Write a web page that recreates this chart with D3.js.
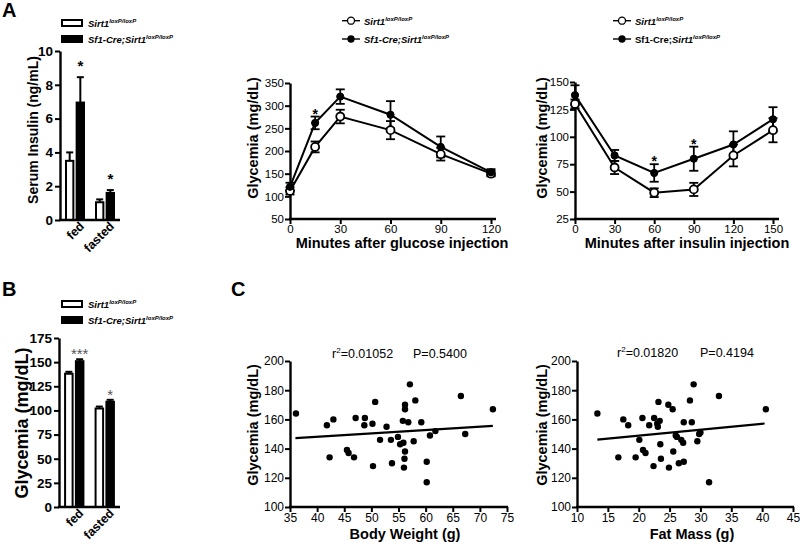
<!DOCTYPE html>
<html><head><meta charset="utf-8">
<script src="https://cdn.jsdelivr.net/npm/d3@7"></script>
<style>body{margin:0;background:#fff} svg{display:block} text{font-family:"Liberation Sans",Arial,sans-serif}</style>
</head><body><svg id="c" width="800" height="543"></svg>
<script>
// ---------- DATA ----------
const groups = ["fed", "fasted"];
const seriesKeys = ["WT", "KO"];
// Panel A – serum insulin (ng/mL)
const insulinWT = [3.5, 1.05], insulinWTErr = [0.5, 0.17];
const insulinKO = [6.95, 1.6], insulinKOErr = [1.5, 0.17];
const insulinTicks = [0, 2, 4, 6, 8, 10];
const insulinStars = ["*", "*"];
// Panel B – glycemia (mg/dL)
const glyWT = [138, 102], glyWTErr = [2, 2];
const glyKO = [151, 109], glyKOErr = [2, 2];
const glyTicks = [0, 25, 50, 75, 100, 125, 150, 175];
const glyStars = ["***", "*"];
// GTT
const gttTime = [0, 15, 30, 60, 90, 120];
const gttWT = [112, 209, 276, 246, 193, 150], gttWTErr = [8, 12, 15, 20, 14, 6];
const gttKO = [121, 262, 320, 280, 209, 153], gttKOErr = [9, 14, 16, 30, 23, 7];
const gttXTicks = [0, 30, 60, 90, 120];
const gttYTicks = [50, 100, 150, 200, 250, 300, 350];
const gttStarTimes = [15];
// ITT
const ittTime = [0, 30, 60, 90, 120, 150];
const ittWT = [130, 72, 49, 52, 83, 106], ittWTErr = [4, 6, 4, 6, 10, 11];
const ittKO = [138, 83, 67, 80, 93, 116], ittKOErr = [9, 5, 8, 11, 12, 11];
const ittXTicks = [0, 30, 60, 90, 120, 150];
const ittYTicks = [25, 50, 75, 100, 125, 150];
const ittStarTimes = [60, 90];
// Panel C – correlations
const bwX = [36.1, 41.8, 43.0, 42.3, 45.5, 45.8, 46.8, 47.1, 48.8, 48.7, 50.2, 50.7, 50.3, 51.6, 52.8, 53.6, 53.8, 54.9, 55.3, 55.9, 55.8, 56.2, 56.2, 56.8, 56.2, 56.1, 56.0, 57.1, 58.1, 57.8, 59.2, 60.2, 60.2, 60.8, 61.8, 66.5, 67.3, 72.4];
const bwY = [164, 156, 160, 134, 139, 137, 134, 161, 161, 156, 157, 172, 128, 146, 155, 146, 130, 148, 143, 144, 159, 170, 167, 158, 138, 133, 127, 184, 173, 145, 158, 131, 117, 149, 152, 176, 150, 167];
const bwFitX = [36, 72.4], bwFitY = [147.2, 155.6];
const fmX = [13.3, 16.7, 17.5, 18.3, 19.5, 20.1, 20.6, 20.7, 21.1, 21.7, 22.4, 22.5, 23.0, 23.1, 23.2, 23.4, 23.5, 23.6, 24.9, 24.8, 25.5, 25.6, 26.0, 26.2, 26.5, 26.9, 27.2, 27.3, 27.3, 28.3, 28.6, 28.9, 29.5, 29.8, 30.0, 31.4, 33.0, 40.6];
const fmY = [164, 134, 160, 156, 134, 146, 161, 139, 137, 156, 128, 161, 157, 155, 172, 159, 143, 133, 127, 170, 167, 138, 149, 148, 130, 146, 144, 131, 158, 173, 158, 184, 145, 150, 151, 117, 176, 167];
const fmFitX = [13.3, 40.4], fmFitY = [146.2, 157.2];
const bwXTicks = [35, 40, 45, 50, 55, 60, 65, 70, 75];
const fmXTicks = [10, 15, 20, 25, 30, 35, 40, 45];
const scatYTicks = [100, 120, 140, 160, 180, 200];

// ---------- HELPERS ----------
const svg = d3.select("#c");
const FONT = '"Liberation Sans",Arial,sans-serif';

function styleAxis(g, size, weight) {
  g.attr("font-family", FONT).attr("font-size", size);
  g.select(".domain").attr("stroke", "#000").attr("stroke-width", 2.4);
  g.selectAll(".tick line").attr("stroke", "#000").attr("stroke-width", 2);
  g.selectAll(".tick text").attr("fill", "#000").attr("font-weight", weight);
}
function panelLetter(t, x, y) {
  svg.append("text").attr("x", x).attr("y", y).text(t)
    .attr("font-size", 20).attr("font-weight", "bold");
}
function yTitle(t, x, y, size) {
  svg.append("text").attr("transform", `translate(${x},${y}) rotate(-90)`)
    .attr("text-anchor", "middle").attr("font-size", size).attr("font-weight", "bold").text(t);
}
function xTitle(t, x, y, size) {
  svg.append("text").attr("x", x).attr("y", y).attr("text-anchor", "middle")
    .attr("font-size", size).attr("font-weight", "bold").text(t);
}
function legendLabel(x, y, prefixPlain) {
  const t = svg.append("text").attr("x", x).attr("y", y).attr("font-size", 9.5).attr("font-weight", "bold");
  if (prefixPlain) t.append("tspan").text(prefixPlain.text).attr("font-style", prefixPlain.italic ? "italic" : "normal");
  t.append("tspan").text("Sirt1").attr("font-style", "italic");
  t.append("tspan").text("loxP/loxP").attr("font-style", "italic").attr("font-size", 6).attr("dy", -4);
}

// ---------- BAR PANELS ----------
function barPanel(opt) {
  const y = d3.scaleLinear().domain([0, opt.yMax]).range([opt.y0, opt.y1]);
  const xg = d3.scaleBand().domain(groups).range([opt.x0, opt.x1]).paddingInner(1 / 3).paddingOuter(1 / 6);
  const xs = d3.scaleBand().domain(seriesKeys).range([0, xg.bandwidth()]).paddingInner(0.12);
  const data = [];
  groups.forEach((g, i) => {
    data.push({ g, s: "WT", v: opt.wt[i], e: opt.wtErr[i] });
    data.push({ g, s: "KO", v: opt.ko[i], e: opt.koErr[i] });
  });
  const gg = svg.append("g");
  gg.selectAll("g.eb").data(data).join("g").each(function (d) {
    const cx = xg(d.g) + xs(d.s) + xs.bandwidth() / 2;
    const sel = d3.select(this);
    sel.append("line").attr("x1", cx).attr("x2", cx).attr("y1", y(d.v)).attr("y2", y(d.v + d.e)).attr("stroke", "#000").attr("stroke-width", 2);
    sel.append("line").attr("x1", cx - 3.5).attr("x2", cx + 3.5).attr("y1", y(d.v + d.e)).attr("y2", y(d.v + d.e)).attr("stroke", "#000").attr("stroke-width", 2);
  });
  gg.selectAll("rect").data(data).join("rect")
    .attr("x", d => xg(d.g) + xs(d.s) + 1).attr("width", xs.bandwidth() - 2)
    .attr("y", d => y(d.v)).attr("height", d => opt.y0 - y(d.v))
    .attr("fill", d => d.s === "WT" ? "#fff" : "#000").attr("stroke", "#000").attr("stroke-width", 2);
  const ya = svg.append("g").attr("transform", `translate(${opt.x0},0)`)
    .call(d3.axisLeft(y).tickValues(opt.ticks).tickSize(5).tickSizeOuter(0).tickPadding(2));
  styleAxis(ya, 13.5, "bold");
  const xa = svg.append("g").attr("transform", `translate(0,${opt.y0})`)
    .call(d3.axisBottom(xg).tickSize(0).tickSizeOuter(0));
  styleAxis(xa, 12.5, "bold");
  xa.select(".domain").attr("d", `M${opt.x0 - 1},0H${opt.x1}`);
  xa.selectAll(".tick text").attr("text-anchor", "end")
    .attr("transform", "translate(6,3) rotate(-45)").attr("dy", "0.45em").attr("y", 0);
  groups.forEach((g, i) => {
    const cx = xg(g) + xs("KO") + xs.bandwidth() / 2;
    svg.append("text").attr("x", cx).attr("y", y(opt.ko[i] + opt.koErr[i]) - opt.starGap)
      .attr("text-anchor", "middle").attr("font-size", opt.starSize).attr("font-weight", opt.starWeight)
      .attr("fill", opt.starColor).text(opt.stars[i]);
  });
  const lx = 62;
  svg.append("rect").attr("x", lx).attr("y", opt.legY).attr("width", 20).attr("height", 6).attr("fill", "#fff").attr("stroke", "#000").attr("stroke-width", 2);
  svg.append("rect").attr("x", lx - 1).attr("y", opt.legY + 15).attr("width", 22).attr("height", 8).attr("fill", "#000");
  legendLabel(88, opt.legY + 7, null);
  legendLabel(88, opt.legY + 23, { text: "Sf1-Cre;", italic: true });
  yTitle(opt.title, opt.titleX, opt.titleY, opt.titleSize);
}

barPanel({ x0: 60, x1: 120, y0: 220, y1: 51, yMax: 10, wt: insulinWT, wtErr: insulinWTErr, ko: insulinKO, koErr: insulinKOErr,
  ticks: insulinTicks, stars: insulinStars, starGap: 6, starSize: 15, starWeight: "bold", starColor: "#000",
  legY: 20, title: "Serum Insulin (ng/mL)", titleX: 38, titleY: 130, titleSize: 14 });
barPanel({ x0: 59, x1: 120, y0: 507, y1: 338, yMax: 175, wt: glyWT, wtErr: glyWTErr, ko: glyKO, koErr: glyKOErr,
  ticks: glyTicks, stars: glyStars, starGap: 0, starSize: 15, starWeight: "normal", starColor: "#555",
  legY: 301, title: "Glycemia (mg/dL)", titleX: 28, titleY: 423, titleSize: 18 });

// ---------- LINE PANELS ----------
function linePanel(opt) {
  const x = d3.scaleLinear().domain([opt.xTicks[0], opt.xTicks[opt.xTicks.length - 1]]).range([opt.x0, opt.x1]);
  const y = d3.scaleLinear().domain([opt.yTicks[0], opt.yTicks[opt.yTicks.length - 1]]).range([opt.y0, opt.y1]);
  const ya = svg.append("g").attr("transform", `translate(${opt.x0},0)`)
    .call(d3.axisLeft(y).tickValues(opt.yTicks).tickSize(5).tickSizeOuter(0).tickPadding(1));
  styleAxis(ya, 11.5, "normal");
  const xa = svg.append("g").attr("transform", `translate(0,${opt.y0})`)
    .call(d3.axisBottom(x).tickValues(opt.xTicks).tickSize(5).tickSizeOuter(0).tickPadding(1));
  styleAxis(xa, 11.5, "normal");
  xa.select(".domain").attr("d", `M${opt.x0 - 1},0H${opt.xEnd}`);
  const series = [
    { v: opt.wt, e: opt.wtErr, open: true },
    { v: opt.ko, e: opt.koErr, open: false }
  ];
  const line = d3.line().x((d, i) => x(opt.time[i])).y(d => y(d));
  series.forEach(s => {
    const g = svg.append("g");
    s.v.forEach((v, i) => {
      const cx = x(opt.time[i]);
      g.append("line").attr("x1", cx).attr("x2", cx).attr("y1", y(v - s.e[i])).attr("y2", y(v + s.e[i])).attr("stroke", "#000").attr("stroke-width", 1.8);
      [v - s.e[i], v + s.e[i]].forEach(w => g.append("line").attr("x1", cx - 4.5).attr("x2", cx + 4.5).attr("y1", y(w)).attr("y2", y(w)).attr("stroke", "#000").attr("stroke-width", 1.8));
    });
  });
  series.forEach(s => {
    svg.append("path").datum(s.v).attr("d", line).attr("fill", "none").attr("stroke", "#000").attr("stroke-width", 2);
  });
  series.forEach(s => {
    svg.append("g").selectAll("circle").data(s.v).join("circle")
      .attr("cx", (d, i) => x(opt.time[i])).attr("cy", d => y(d))
      .attr("r", s.open ? 4 : 3.6).attr("fill", s.open ? "#fff" : "#000").attr("stroke", "#000").attr("stroke-width", s.open ? 1.8 : 1);
  });
  opt.starTimes.forEach(t => {
    const i = opt.time.indexOf(t);
    const top = Math.max(opt.ko[i] + opt.koErr[i], opt.wt[i] + opt.wtErr[i]);
    svg.append("text").attr("x", x(t)).attr("y", y(top) + 2).attr("text-anchor", "middle")
      .attr("font-size", 14).attr("font-weight", "bold").text("*");
  });
  const lx = opt.legX;
  [[20.7, true], [39, false]].forEach(([ly, open]) => {
    svg.append("line").attr("x1", lx).attr("x2", lx + 18).attr("y1", ly).attr("y2", ly).attr("stroke", "#000").attr("stroke-width", 1.4);
    svg.append("circle").attr("cx", lx + 9).attr("cy", ly).attr("r", open ? 3.5 : 3).attr("fill", open ? "#fff" : "#000").attr("stroke", "#000").attr("stroke-width", 1.3);
  });
  legendLabel(lx + 22, 24.5, null);
  legendLabel(lx + 22, 43, { text: "Sf1-Cre;", italic: opt.legItalic });
  yTitle("Glycemia (mg/dL)", opt.titleYX, 138, 14.5);
  xTitle(opt.xTitle, opt.titleXX, 248, 14.5);
}

linePanel({ x0: 290, x1: 491, xEnd: 496, y0: 219, y1: 83, time: gttTime, wt: gttWT, wtErr: gttWTErr, ko: gttKO, koErr: gttKOErr,
  xTicks: gttXTicks, yTicks: gttYTicks, starTimes: gttStarTimes, legX: 342, legItalic: true,
  titleYX: 258, titleXX: 402, xTitle: "Minutes after glucose injection" });
linePanel({ x0: 575, x1: 773, xEnd: 779, y0: 219, y1: 82, time: ittTime, wt: ittWT, wtErr: ittWTErr, ko: ittKO, koErr: ittKOErr,
  xTicks: ittXTicks, yTicks: ittYTicks, starTimes: ittStarTimes, legX: 613, legItalic: false,
  titleYX: 547, titleXX: 687, xTitle: "Minutes after insulin injection" });

// ---------- SCATTER PANELS ----------
function scatterPanel(opt) {
  const x = d3.scaleLinear().domain([opt.xTicks[0], opt.xTicks[opt.xTicks.length - 1]]).range([opt.x0, opt.x1]);
  const y = d3.scaleLinear().domain([100, 200]).range([507, 361]);
  const ya = svg.append("g").attr("transform", `translate(${opt.x0},0)`)
    .call(d3.axisLeft(y).tickValues(scatYTicks).tickSize(5).tickSizeOuter(0).tickPadding(1));
  styleAxis(ya, 12, "normal");
  const xa = svg.append("g").attr("transform", `translate(0,507)`)
    .call(d3.axisBottom(x).tickValues(opt.xTicks).tickSize(5).tickSizeOuter(0).tickPadding(1));
  styleAxis(xa, 12, "normal");
  xa.select(".domain").attr("d", `M${opt.x0 - 1},0H${opt.x1 + 1}`);
  svg.append("line").attr("x1", x(opt.fitX[0])).attr("x2", x(opt.fitX[1])).attr("y1", y(opt.fitY[0])).attr("y2", y(opt.fitY[1]))
    .attr("stroke", "#000").attr("stroke-width", 2.2);
  svg.append("g").selectAll("circle").data(opt.xs).join("circle")
    .attr("cx", d => x(d)).attr("cy", (d, i) => y(opt.ys[i])).attr("r", 3.2).attr("fill", "#000");
  const t = svg.append("text").attr("x", opt.rX).attr("y", opt.rY).attr("font-size", 12.5);
  t.append("tspan").text("r");
  t.append("tspan").text("2").attr("font-size", 8).attr("dy", -5);
  t.append("tspan").text(opt.r2).attr("dy", 5);
  svg.append("text").attr("x", opt.pX).attr("y", opt.rY).attr("font-size", 12.5).text(opt.p);
  yTitle("Glycemia (mg/dL)", opt.titleYX, 425, 14.5);
  xTitle(opt.xTitle, opt.titleXX, 539, 14.5);
}
scatterPanel({ x0: 290, x1: 507, xTicks: bwXTicks, xs: bwX, ys: bwY, fitX: bwFitX, fitY: bwFitY,
  rX: 332, rY: 358, r2: "=0.01052", pX: 413, p: "P=0.5400", titleYX: 258, titleXX: 405, xTitle: "Body Weight (g)" });
scatterPanel({ x0: 577, x1: 793, xTicks: fmXTicks, xs: fmX, ys: fmY, fitX: fmFitX, fitY: fmFitY,
  rX: 617, rY: 357, r2: "=0.01820", pX: 700, p: "P=0.4194", titleYX: 547, titleXX: 692, xTitle: "Fat Mass (g)" });

panelLetter("A", 2, 17);
panelLetter("B", 2, 296);
panelLetter("C", 231, 296);
</script></body></html>
